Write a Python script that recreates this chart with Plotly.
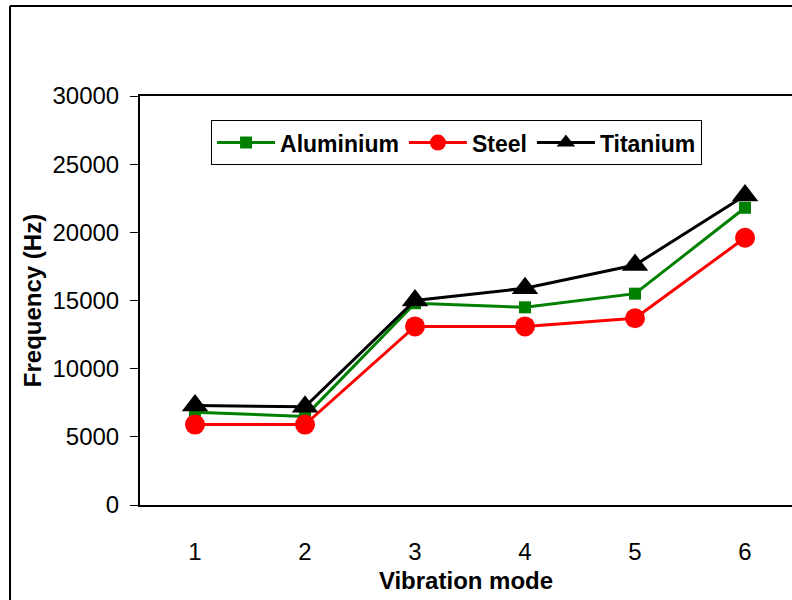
import plotly.graph_objects as go

modes = [1, 2, 3, 4, 5, 6]
aluminium = [6800, 6500, 14800, 14500, 15500, 21800]
steel = [5900, 5900, 13100, 13100, 13700, 19600]
titanium = [7300, 7200, 15000, 15900, 17600, 22700]
y_ticks = [0, 5000, 10000, 15000, 20000, 25000, 30000]

FONT = "Arial, Liberation Sans, sans-serif"

fig = go.Figure()
fig.add_trace(go.Scatter(
    x=modes, y=aluminium, name="Aluminium", mode="lines+markers",
    line=dict(color="#008000", width=3),
    marker=dict(symbol="square", size=12, color="#008000")))
fig.add_trace(go.Scatter(
    x=modes, y=steel, name="Steel", mode="lines+markers",
    line=dict(color="#ff0000", width=3),
    marker=dict(symbol="circle", size=20, color="#ff0000")))
fig.add_trace(go.Scatter(
    x=modes, y=titanium, name="Titanium", mode="lines+markers",
    line=dict(color="#000000", width=3),
    marker=dict(symbol="triangle-up", size=23, color="#000000")))

fig.update_layout(
    width=792, height=600,
    margin=dict(l=140, r=0, t=96, b=95),
    paper_bgcolor="white", plot_bgcolor="white",
    font=dict(family=FONT, size=24, color="black"),
    showlegend=True,
    legend=dict(
        orientation="h", x=0.109, y=0.941, xanchor="left", yanchor="top",
        bordercolor="black", borderwidth=1, bgcolor="white",
        font=dict(family=FONT, size=23, color="black", weight="bold"),
        itemwidth=58, tracegroupgap=0),
    xaxis=dict(
        range=[0.5, 6.427], tickmode="array", tickvals=modes,
        ticktext=[str(m) for m in modes],
        showgrid=False, zeroline=False, showline=True, linecolor="black",
        linewidth=2, mirror=True, ticks="", ticklabelstandoff=24,
        title=dict(text="<b>Vibration mode</b>", standoff=8,
                   font=dict(size=24))),
    yaxis=dict(
        range=[0, 30000], tickmode="array", tickvals=y_ticks,
        ticktext=[str(v) for v in y_ticks],
        showgrid=False, zeroline=False, showline=True, linecolor="black",
        linewidth=2, ticks="outside", ticklen=8, tickwidth=1,
        tickcolor="black", ticklabelstandoff=6,
        title=dict(text="<b>Frequency (Hz)</b>", standoff=4,
                   font=dict(size=24))),
)

# outer chart frame
fig.add_shape(type="line", xref="paper", yref="paper",
              x0=-130 / 652, x1=-130 / 652, y0=-95 / 409, y1=(409 + 90) / 409,
              line=dict(color="black", width=2))
fig.add_shape(type="line", xref="paper", yref="paper",
              x0=-130 / 652, x1=1.05, y0=(409 + 90) / 409, y1=(409 + 90) / 409,
              line=dict(color="black", width=2))

fig.write_html("out.html")
